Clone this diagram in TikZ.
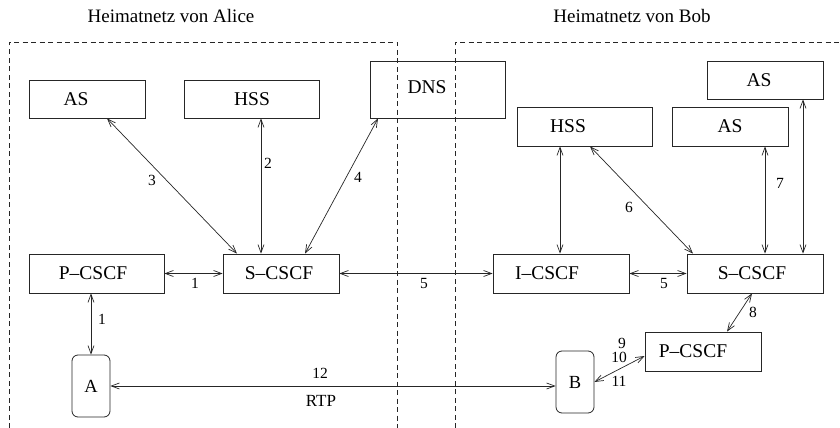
\documentclass[tikz,border=0pt]{standalone}
\usepackage{fontspec}
\setmainfont{Liberation Serif}
\usetikzlibrary{arrows.meta}
\begin{document}
\begin{tikzpicture}[x=1pt,y=-1pt,
  box/.style={draw=black!85,line width=0.8pt,inner sep=0pt,minimum height=39pt},
  term/.style={box,rounded corners=6pt,minimum width=38pt,minimum height=62pt,font=\fontsize{18.5}{21}\selectfont},
  txt/.style={inner sep=0pt,font=\fontsize{19.5}{22}\selectfont},
  num/.style={inner sep=0pt,font=\fontsize{15.5}{17}\selectfont},
  rtp/.style={inner sep=0pt,font=\fontsize{17}{19}\selectfont},
  ttl/.style={inner sep=0pt,font=\fontsize{19}{21}\selectfont},
  link/.style={draw=black!85,line width=0.7pt,{Straight Barb[length=8pt,width=6pt]}-{Straight Barb[length=8pt,width=6pt]}},
  zone/.style={draw=black!85,line width=0.8pt,dash pattern=on 5pt off 3.5pt}]
\useasboundingbox (0,0) rectangle (840,428);
% titles
\node[ttl] (tA) at (171,16) {Heimatnetz von Alice};
\node[ttl] (tB) at (632,16) {Heimatnetz von Bob};
% zones
\draw[zone] (9,428) -- (9,42) -- (397,42) -- (397,428);
\draw[zone] (455,428) -- (455,42) -- (840,42);
% boxes
\node[box,minimum width=116pt,minimum height=38pt] (asA) at (87,99) {};
\node[box,minimum width=135pt,minimum height=38pt] (hssA) at (251.5,99) {};
\node[box,minimum width=135pt,minimum height=57pt] (dns) at (437.5,89.5) {};
\node[box,minimum width=116pt,minimum height=38pt] (asT) at (765,80) {};
\node[box,minimum width=135pt] (hssB) at (584.5,126.5) {};
\node[box,minimum width=116pt] (asB) at (730,126.5) {};
\node[box,minimum width=135pt] (pcA) at (96.5,273.5) {};
\node[box,minimum width=116pt] (scA) at (281,273.5) {};
\node[box,minimum width=136pt] (ic) at (561,273.5) {};
\node[box,minimum width=136pt] (scB) at (755,273.5) {};
\node[box,minimum width=116pt] (pcB) at (703,351.5) {};
\node[term] (A) at (91,386) {A};
\node[term] (B) at (575,382) {B};
% box texts
\node[txt] (asAt) at (76,99) {AS};
\node[txt] (hssAt) at (252,99) {HSS};
\node[txt] (dnst) at (427,87) {DNS};
\node[txt] (asTt) at (759,80) {AS};
\node[txt] (hssBt) at (568,126) {HSS};
\node[txt] (asBt) at (730,126) {AS};
\node[txt] (pcAt) at (93,273) {P–CSCF};
\node[txt] (scAt) at (279,273) {S–CSCF};
\node[txt] (ict) at (547,273) {I–CSCF};
\node[txt] (scBt) at (752,273) {S–CSCF};
\node[txt] (pcBt) at (693,351) {P–CSCF};
% connectors
\draw[link] (pcA.east) -- (scA.west);
\draw[link] ([xshift=-5.5pt]pcA.south) -- (A.north);
\draw[link] ([xshift=20pt]asA.south) -- ([xshift=-44pt]scA.north);
\draw[link] ([xshift=9.5pt]hssA.south) -- ([xshift=-20pt]scA.north);
\draw[link] ([xshift=-59.5pt]dns.south) -- ([xshift=24pt]scA.north);
\draw[link] (scA.east) -- (ic.west);
\draw[link] (ic.east) -- (scB.west);
\draw[link] ([xshift=-24.5pt]hssB.south) -- ([xshift=-1pt]ic.north);
\draw[link] ([xshift=5.5pt]hssB.south) -- ([xshift=-62pt]scB.north);
\draw[link] ([xshift=35pt]asB.south) -- ([xshift=10pt]scB.north);
\draw[link] ([xshift=38pt]asT.south) -- ([xshift=48pt]scB.north);
\draw[link] ([xshift=-3pt]scB.south) -- ([xshift=24pt]pcB.north);
\draw[link] (B.east) -- ([yshift=-4.5pt]pcB.west);
\draw[link] (A.east) -- ([yshift=-4pt]B.west);
% labels
\node[num] (l1a) at (195,283) {1};
\node[num] (l1b) at (102,319) {1};
\node[num] (l3) at (152,180) {3};
\node[num] (l2) at (268,163) {2};
\node[num] (l4) at (358,177) {4};
\node[num] (l5a) at (424,283) {5};
\node[num] (l5b) at (664,283) {5};
\node[num] (l6) at (629,207) {6};
\node[num] (l7) at (780,183) {7};
\node[num] (l8) at (753,312) {8};
\node[num] (l9) at (622,343) {9};
\node[num] (l10) at (619,357) {10};
\node[num] (l11) at (619,381) {11};
\node[num] (l12) at (320,373) {12};
\node[rtp] (lrtp) at (321,401) {RTP};
\end{tikzpicture}
\end{document}
